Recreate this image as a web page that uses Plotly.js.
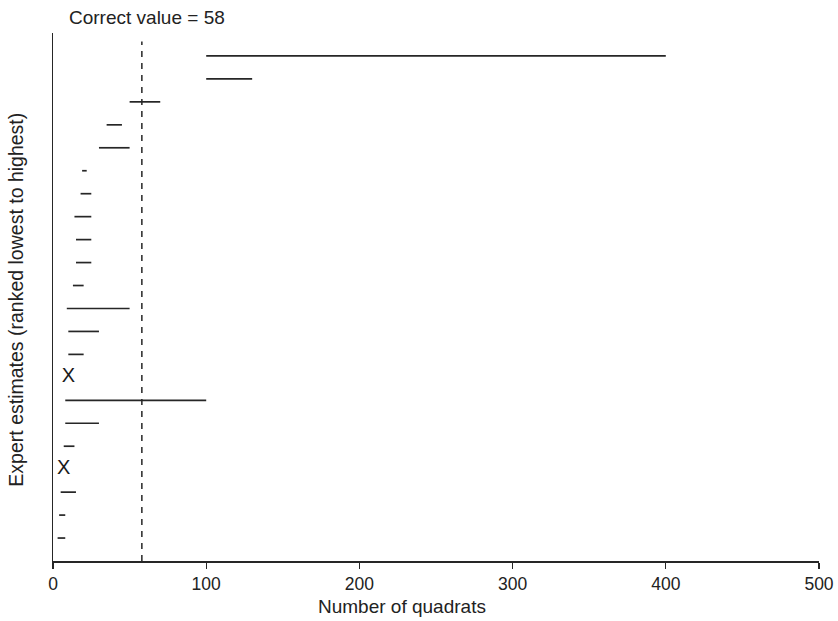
<!DOCTYPE html>
<html>
<head>
<meta charset="utf-8">
<script src="https://cdn.plot.ly/plotly-3.0.1.min.js"></script>
<style>
  html, body { margin: 0; padding: 0; background: #fff; }
  #chart { width: 838px; height: 621px; }
</style>
</head>
<body>
<div id="chart"></div>
<script>
// Expert range estimates, ranked lowest (1) to highest (22)
const rangeRank = [1, 2, 3, 5, 6, 7, 9, 10, 11, 12, 13, 14, 15, 16, 17, 18, 19, 20, 21, 22];
const rangeLow  = [3, 4, 5, 7, 8, 8, 10, 10, 9, 13, 15, 15, 14, 18, 19, 30, 35, 50, 100, 100];
const rangeHigh = [8, 8, 15, 14, 30, 100, 20, 30, 50, 20, 25, 25, 25, 25, 22, 50, 45, 70, 130, 400];

// Experts who gave a single value rather than a range
const pointRank  = [4, 8];
const pointValue = [7, 10];

const correctValue = 58;
const xTicks = [0, 100, 200, 300, 400, 500];

// Build one broken line trace: each range is a segment separated by a gap
const segX = [], segY = [];
rangeRank.forEach((r, i) => {
  segX.push(rangeLow[i], rangeHigh[i], null);
  segY.push(r, r, null);
});

const ink = '#262626';
const font = 'Liberation Sans, Arial, Helvetica, sans-serif';

const traces = [
  {
    type: 'scatter', mode: 'lines',
    x: segX, y: segY,
    line: { color: ink, width: 1.7 },
    connectgaps: false,
    hoverinfo: 'skip', showlegend: false
  },
  {
    type: 'scatter', mode: 'text',
    x: pointValue, y: pointRank,
    text: pointRank.map(() => 'X'),
    textposition: 'middle center',
    textfont: { family: font, size: 20, color: '#1a1a1a' },
    hoverinfo: 'skip', showlegend: false
  }
];

const layout = {
  width: 838, height: 621,
  margin: { l: 53, r: 19, t: 33, b: 60 },
  paper_bgcolor: '#fff', plot_bgcolor: '#fff',
  font: { family: font, color: '#222', size: 17 },
  xaxis: {
    range: [0, 500],
    tickvals: xTicks,
    ticktext: xTicks.map(String),
    ticks: 'outside', ticklen: 6, tickwidth: 1.3, tickcolor: ink,
    showline: true, linecolor: ink, linewidth: 1.5,
    showgrid: false, zeroline: false,
    tickfont: { family: font, size: 17.5, color: '#222' },
    fixedrange: true
  },
  yaxis: {
    range: [0, 23],
    showticklabels: false, ticks: '',
    showline: true, linecolor: ink, linewidth: 1.5,
    showgrid: false, zeroline: false,
    fixedrange: true
  },
  shapes: [
    {
      type: 'line', xref: 'x', yref: 'paper',
      x0: correctValue, x1: correctValue, y0: 0, y1: 0.984,
      line: { color: ink, width: 1.5, dash: '6px,6px' }
    }
  ],
  annotations: [
    {
      text: 'Correct value = ' + correctValue,
      xref: 'x', yref: 'paper', x: correctValue, y: 1,
      xanchor: 'center', yanchor: 'bottom', yshift: 3, xshift: 5,
      showarrow: false,
      font: { family: font, size: 19, color: '#222' }
    },
    {
      text: 'Number of quadrats',
      xref: 'paper', yref: 'paper', x: 0.455, y: 0,
      xanchor: 'center', yanchor: 'top', yshift: -33,
      showarrow: false,
      font: { family: font, size: 19, color: '#222' }
    },
    {
      text: 'Expert estimates (ranked lowest to highest)',
      xref: 'paper', yref: 'paper', x: 0, y: 0.495,
      xanchor: 'center', yanchor: 'middle', xshift: -37,
      textangle: -90,
      showarrow: false,
      font: { family: font, size: 19.5, color: '#222' }
    }
  ]
};

Plotly.newPlot('chart', traces, layout, { displayModeBar: false, staticPlot: true });
</script>
</body>
</html>
